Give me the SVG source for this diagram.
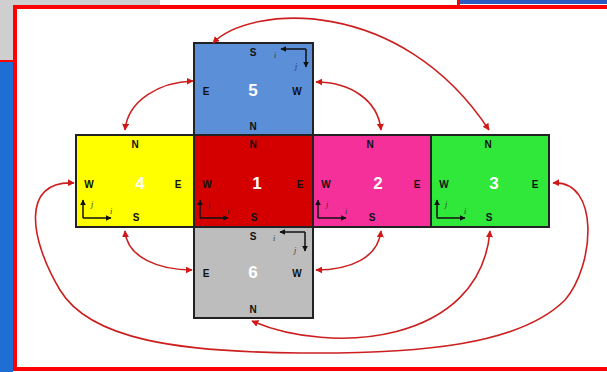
<svg xmlns="http://www.w3.org/2000/svg" width="607" height="372" viewBox="0 0 607 372">
<style>
.face{stroke:#222;stroke-width:2}
.lbl{font-family:"Liberation Sans",Arial,sans-serif;font-weight:bold;font-size:10px;fill:#111;text-anchor:middle}
.num{font-family:"Liberation Sans",Arial,sans-serif;font-weight:bold;font-size:17px;fill:#fff;text-anchor:middle}
.ax{stroke:#111;stroke-width:1.5;fill:none}
.ij{font-family:"Liberation Serif",serif;font-style:italic;font-size:8px;fill:#333;text-anchor:middle}
.con{stroke:#cc2020;stroke-width:1.6;fill:none;marker-start:url(#ah);marker-end:url(#ah)}
</style>
<defs>
<marker id="ah" viewBox="0 0 10 10" refX="9" refY="5" markerWidth="7" markerHeight="7" markerUnits="userSpaceOnUse" orient="auto-start-reverse"><path d="M0,0 L10,5 L0,10 z" fill="#d01818"/></marker>
<marker id="ak" viewBox="0 0 10 10" refX="9" refY="5" markerWidth="6" markerHeight="6" markerUnits="userSpaceOnUse" orient="auto"><path d="M0,0 L10,5 L0,10 z" fill="#111"/></marker>
</defs>
<!-- background -->
<rect x="0" y="0" width="607" height="372" fill="#ffffff"/>
<rect x="0" y="0" width="160" height="6" fill="#cfcfcf"/>
<rect x="0" y="0" width="14" height="62" fill="#cfcfcf"/>
<rect x="0" y="62" width="13" height="310" fill="#1e6ed4"/>
<rect x="0" y="60" width="13" height="2" fill="#ff0000"/>
<rect x="460" y="0" width="147" height="4" fill="#2a5bc0"/>
<rect x="457" y="0" width="3" height="6" fill="#ff0000"/>
<rect x="15" y="7" width="600" height="362" fill="#ffffff" stroke="#ff0000" stroke-width="4"/>

<g id="face5">
<rect class="face" x="194" y="43" width="119" height="92" fill="#5b8fd8"/>
<text class="lbl" x="253" y="56">S</text>
<text class="lbl" x="206" y="95">E</text>
<text class="lbl" x="297" y="95">W</text>
<text class="lbl" x="253" y="130">N</text>
<text class="num" x="253" y="96">5</text>
<path class="ax" d="M306,49 H281" marker-end="url(#ak)"/>
<path class="ax" d="M306,49 V67" marker-end="url(#ak)"/>
<text class="ij" x="275" y="58">i</text>
<text class="ij" x="296" y="69">j</text>
</g>
<g id="face4">
<rect class="face" x="76" y="135" width="118" height="92" fill="#ffff00"/>
<text class="lbl" x="135" y="148">N</text>
<text class="lbl" x="89" y="188">W</text>
<text class="lbl" x="178" y="188">E</text>
<text class="lbl" x="136" y="221">S</text>
<text class="num" x="140" y="189">4</text>
<path class="ax" d="M83,218 V200" marker-end="url(#ak)"/>
<path class="ax" d="M83,218 H111" marker-end="url(#ak)"/>
<text class="ij" x="92" y="207">j</text>
<text class="ij" x="111" y="214">i</text>
</g>
<g id="face1">
<rect class="face" x="194" y="135" width="119" height="92" fill="#d40000"/>
<text class="lbl" x="253" y="148">N</text>
<text class="lbl" x="207" y="188">W</text>
<text class="lbl" x="300" y="188">E</text>
<text class="lbl" x="254" y="221">S</text>
<text class="num" x="257" y="189">1</text>
<path class="ax" d="M200,218 V200" marker-end="url(#ak)"/>
<path class="ax" d="M200,218 H228" marker-end="url(#ak)"/>
<text class="ij" x="209" y="207">j</text>
<text class="ij" x="228" y="214">i</text>
</g>
<g id="face2">
<rect class="face" x="313" y="135" width="118" height="92" fill="#f5309a"/>
<text class="lbl" x="370" y="148">N</text>
<text class="lbl" x="326" y="188">W</text>
<text class="lbl" x="417" y="188">E</text>
<text class="lbl" x="372" y="221">S</text>
<text class="num" x="378" y="189">2</text>
<path class="ax" d="M318,218 V200" marker-end="url(#ak)"/>
<path class="ax" d="M318,218 H346" marker-end="url(#ak)"/>
<text class="ij" x="327" y="207">j</text>
<text class="ij" x="346" y="214">i</text>
</g>
<g id="face3">
<rect class="face" x="431" y="135" width="118" height="92" fill="#30e83a"/>
<text class="lbl" x="488" y="148">N</text>
<text class="lbl" x="444" y="188">W</text>
<text class="lbl" x="535" y="188">E</text>
<text class="lbl" x="489" y="221">S</text>
<text class="num" x="494" y="189">3</text>
<path class="ax" d="M437,218 V200" marker-end="url(#ak)"/>
<path class="ax" d="M437,218 H465" marker-end="url(#ak)"/>
<text class="ij" x="446" y="207">j</text>
<text class="ij" x="465" y="214">i</text>
</g>
<g id="face6">
<rect class="face" x="194" y="227" width="119" height="91" fill="#bdbdbd"/>
<text class="lbl" x="253" y="240">S</text>
<text class="lbl" x="206" y="277">E</text>
<text class="lbl" x="297" y="277">W</text>
<text class="lbl" x="253" y="313">N</text>
<text class="num" x="253" y="278">6</text>
<path class="ax" d="M305,232 H280" marker-end="url(#ak)"/>
<path class="ax" d="M305,232 V251" marker-end="url(#ak)"/>
<text class="ij" x="274" y="241">i</text>
<text class="ij" x="295" y="253">j</text>
</g>

<g id="connectors">
<path class="con" d="M193,81 C160,82 128,100 125,130"/>
<path class="con" d="M316,82 C350,82 378,100 381,130"/>
<path class="con" d="M125,231 C127,258 160,270 192,270"/>
<path class="con" d="M316,270 C350,270 378,258 381,231"/>
<path class="con" d="M213,43 C250,5 400,-5 489,130"/>
<path class="con" d="M252,321 C330,355 480,345 490,231"/>
<path class="con" d="M74,183 C20,180 30,240 60,290 C90,340 180,352 300,353 C420,354 520,345 565,300 C595,265 600,180 553,183"/>
</g>
</svg>
